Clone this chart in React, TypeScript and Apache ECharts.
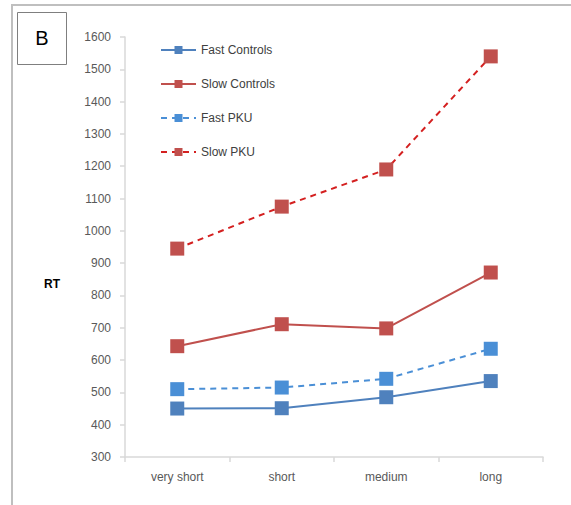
import React, { useEffect, useRef } from "react";
import * as echarts from "echarts";

const categories = ["very short", "short", "medium", "long"];
const fastControls = [450, 451, 485, 535];
const slowControls = [643, 711, 698, 871];
const fastPKU = [510, 515, 542, 635];
const slowPKU = [945, 1075, 1190, 1540];
const yMin = 300;
const yMax = 1600;
const yInterval = 100;

const FONT = "'Liberation Sans', 'DejaVu Sans', sans-serif";

export default function App() {
  const ref = useRef<HTMLDivElement>(null);
  useEffect(() => {
    if (!ref.current) return;
    const chart = echarts.init(ref.current, undefined, { renderer: "svg" });
    const mk = (name: string, data: number[], line: string, marker: string, dashed: boolean) => ({
      name,
      type: "line",
      data,
      symbol: "rect",
      symbolSize: 14,
      itemStyle: { color: marker },
      lineStyle: { color: line, width: 2, type: dashed ? [6, 5] : "solid" },
      emphasis: { disabled: true },
    });
    chart.setOption({
      animation: false,
      backgroundColor: "#ffffff",
      textStyle: { fontFamily: FONT },
      grid: { left: 125, right: 28, top: 37, bottom: 48 },
      legend: {
        orient: "vertical",
        left: 155,
        top: 39,
        itemGap: 22,
        itemWidth: 35,
        itemHeight: 10,
        textStyle: { fontSize: 12, color: "#404040", fontFamily: FONT },
        data: ["Fast Controls", "Slow Controls", "Fast PKU", "Slow PKU"],
      },
      xAxis: {
        type: "category",
        data: categories,
        boundaryGap: true,
        axisLine: { lineStyle: { color: "#D9D9D9", width: 1.5 } },
        axisTick: { show: true, alignWithLabel: false, length: 5, lineStyle: { color: "#D9D9D9", width: 1.5 } },
        axisLabel: { fontSize: 12, color: "#595959", margin: 14, fontFamily: FONT },
      },
      yAxis: {
        type: "value",
        min: yMin,
        max: yMax,
        interval: yInterval,
        axisLine: { show: true, lineStyle: { color: "#D9D9D9", width: 1.5 } },
        axisTick: { show: true, length: 5, lineStyle: { color: "#D9D9D9", width: 1.5 } },
        axisLabel: {
          fontSize: 12,
          color: "#595959",
          margin: 14,
          fontFamily: FONT,
          formatter: (v: number) => String(v),
        },
        splitLine: { show: false },
      },
      graphic: [
        {
          type: "polyline",
          shape: { points: [[12, 505], [12, 5], [571, 5]] },
          style: { stroke: "#BFBFBF", lineWidth: 2, fill: "none" },
          silent: true,
        },
        {
          type: "rect",
          shape: { x: 17.5, y: 12.5, width: 49, height: 52 },
          style: { stroke: "#7F7F7F", lineWidth: 1, fill: "#fff" },
          silent: true,
        },
        {
          type: "text",
          x: 42,
          y: 38,
          style: { text: "B", font: `20px ${FONT}`, fill: "#000", align: "center", verticalAlign: "middle" },
          silent: true,
        },
        {
          type: "text",
          x: 52,
          y: 284,
          style: { text: "RT", font: `bold 12px ${FONT}`, fill: "#000", align: "center", verticalAlign: "middle" },
          silent: true,
        },
      ],
      series: [
        mk("Fast Controls", fastControls, "#4F81BD", "#4F81BD", false),
        mk("Slow Controls", slowControls, "#C0504D", "#C0504D", false),
        mk("Fast PKU", fastPKU, "#4A8FD6", "#4A8FD6", true),
        mk("Slow PKU", slowPKU, "#D42020", "#C0504D", true),
      ],
    });
    return () => chart.dispose();
  }, []);
  return (
    <div
      ref={ref}
      style={{ position: "absolute", left: 0, top: 0, width: 571, height: 505 }}
    />
  );
}
